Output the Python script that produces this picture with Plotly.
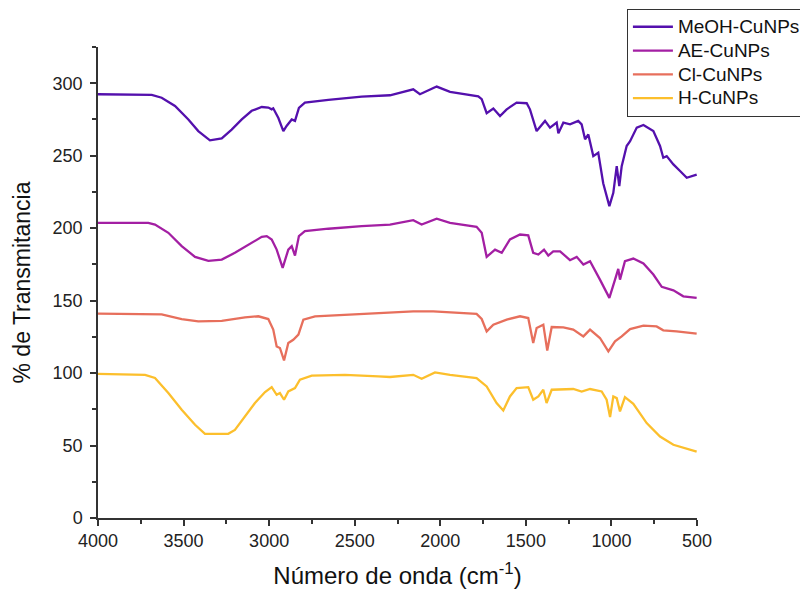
import plotly.graph_objects as go

# FTIR spectra of CuNPs prepared with different extracts (offset for clarity)

meoh_wn = [4000, 3686, 3628, 3550, 3472, 3414, 3346, 3277, 3219, 3160, 3102, 3043, 3005, 2985, 2976,
           2946, 2917, 2898, 2868, 2849, 2826, 2791, 2654, 2459, 2294, 2158, 2119, 2021, 1943, 1778,
           1758, 1729, 1690, 1651, 1612, 1554, 1495, 1476, 1437, 1388, 1359, 1320, 1310, 1281, 1242,
           1194, 1174, 1154, 1135, 1106, 1077, 1048, 1012, 989, 969, 954, 940, 911, 891, 852, 813,
           755, 716, 697, 677, 638, 599, 560, 502]
meoh_t = [292.4, 292.0, 290.0, 284.3, 275.0, 267.0, 260.6, 262.0, 268.0, 275.0, 281.0, 283.6, 283.2, 282.0, 282.7,
          276.0, 267.0, 270.5, 275.0, 274.0, 283.0, 286.6, 288.5, 290.8, 291.7, 295.8, 292.4, 297.7, 294.0, 291.0,
          289.0, 279.3, 282.5, 277.4, 282.0, 286.6, 286.2, 282.0, 267.0, 274.0, 269.4, 272.8, 265.4, 272.8, 271.6,
          274.0, 271.6, 261.3, 264.7, 249.7, 252.0, 231.0, 215.2, 224.4, 242.8, 229.0, 242.8, 256.7, 260.0, 269.4, 271.2,
          267.0, 256.7, 248.6, 249.7, 244.0, 239.4, 234.8, 237.0]

ae_wn = [4000, 3706, 3667, 3589, 3511, 3433, 3355, 3277, 3200, 3122, 3043, 3014, 2985, 2956, 2921,
         2888, 2868, 2849, 2826, 2791, 2654, 2459, 2294, 2158, 2109, 2021, 1943, 1788, 1758, 1729,
         1680, 1641, 1593, 1534, 1486, 1457, 1427, 1394, 1369, 1340, 1300, 1242, 1203, 1164, 1125,
         1067, 1012, 979, 960, 950, 921, 872, 813, 755, 706, 638, 580, 502]
ae_t = [203.7, 203.7, 202.5, 196.8, 187.6, 180.2, 177.4, 178.3, 183.0, 188.7, 194.0, 194.5, 192.2, 185.2, 172.6,
        185.2, 187.6, 181.1, 194.5, 197.9, 199.6, 201.4, 202.5, 205.5, 202.5, 206.5, 203.7, 200.9, 196.8, 180.2,
        185.2, 183.0, 192.2, 195.6, 195.0, 183.0, 181.8, 185.2, 181.1, 184.0, 184.0, 177.9, 180.2, 174.9, 177.2,
        164.5, 151.9, 164.5, 171.9, 164.5, 177.2, 179.0, 175.6, 168.0, 159.5, 157.1, 153.0, 151.9]

cl_wn = [4000, 3628, 3511, 3414, 3277, 3141, 3063, 3005, 2976, 2956, 2937, 2913, 2888, 2859, 2829,
         2800, 2732, 2557, 2294, 2158, 2041, 1788, 1758, 1729, 1690, 1612, 1534, 1486, 1457, 1437,
         1398, 1375, 1349, 1281, 1223, 1164, 1125, 1067, 1018, 979, 940, 891, 813, 736, 697, 619, 502]
cl_t = [141.0, 140.5, 137.3, 135.7, 136.0, 138.5, 139.2, 137.3, 130.0, 118.4, 117.3, 108.7, 120.7, 123.0, 126.5,
        136.9, 139.2, 140.3, 141.5, 142.6, 142.6, 140.8, 137.3, 128.8, 133.4, 136.9, 139.2, 138.0, 120.7, 131.1,
        133.4, 115.6, 131.8, 131.6, 130.0, 125.3, 130.0, 124.2, 115.0, 121.9, 125.3, 130.4, 132.7, 132.2, 129.5, 128.8, 127.2]

h_wn = [4000, 3725, 3667, 3589, 3511, 3433, 3375, 3239, 3200, 3141, 3083, 3024, 2985, 2956, 2937,
        2913, 2888, 2849, 2820, 2751, 2557, 2362, 2294, 2158, 2109, 2031, 1943, 1788, 1729, 1671,
        1632, 1593, 1554, 1486, 1457, 1427, 1398, 1379, 1349, 1223, 1174, 1125, 1057, 1028, 1008,
        989, 969, 950, 921, 872, 794, 716, 638, 502]
h_t = [99.5, 98.8, 96.6, 86.2, 74.7, 64.3, 58.1, 58.1, 60.8, 70.0, 79.3, 86.9, 90.3, 85.0, 86.2,
       81.6, 87.3, 89.6, 95.4, 98.2, 98.8, 97.7, 97.3, 98.8, 96.1, 100.5, 98.8, 96.6, 90.8, 79.3,
       74.2, 83.9, 89.6, 90.3, 81.6, 83.9, 88.5, 79.3, 88.5, 89.0, 87.3, 89.0, 87.3, 81.6, 69.6,
       83.9, 82.7, 73.5, 83.4, 78.8, 65.5, 56.2, 50.5, 45.8]

series = [
    ("MeOH-CuNPs", meoh_wn, meoh_t, "#5410ad"),
    ("AE-CuNPs", ae_wn, ae_t, "#a31fa3"),
    ("Cl-CuNPs", cl_wn, cl_t, "#e76f5c"),
    ("H-CuNPs", h_wn, h_t, "#fcbf2c"),
]

x_ticks = [4000, 3500, 3000, 2500, 2000, 1500, 1000, 500]
y_ticks = [0, 50, 100, 150, 200, 250, 300]

FONT = "Liberation Sans, Arial, sans-serif"

fig = go.Figure()
for name, wn, t, color in series:
    # legend rows are spaced by the legend font size; the label itself is set a bit larger
    label = f'<span style="font-size:19px">{name}</span>'
    fig.add_trace(go.Scatter(x=wn, y=t, mode="lines", name=label,
                             line=dict(color=color, width=2.3)))

axis_common = dict(
    showline=True, linecolor="#333333", linewidth=1.5,
    ticks="outside", ticklen=6, tickwidth=1.5, tickcolor="#333333",
    showgrid=False, zeroline=False,
    tickfont=dict(family=FONT, size=18, color="#222222"),
)

fig.update_xaxes(
    range=[4000, 500], tickvals=x_ticks,
    minor=dict(ticks="outside", ticklen=4, tickwidth=1.5, tickcolor="#333333", dtick=250, tick0=0),
    title=dict(text="Número de onda (cm<sup>-1</sup>)", font=dict(family=FONT, size=24, color="#111111"),
               standoff=17),
    **axis_common,
)
fig.update_yaxes(
    range=[0, 325], tickvals=y_ticks,
    minor=dict(ticks="outside", ticklen=4, tickwidth=1.5, tickcolor="#333333", dtick=25, tick0=0),
    title=dict(text="% de Transmitancia", font=dict(family=FONT, size=23, color="#111111"),
               standoff=16),
    ticklabelstandoff=4,
    **axis_common,
)

fig.update_layout(
    width=800, height=593,
    margin=dict(l=98, r=103, t=47, b=75, autoexpand=False),
    plot_bgcolor="white", paper_bgcolor="white",
    legend=dict(
        x=0.883, y=1.081, xanchor="left", yanchor="top",
        bordercolor="#333333", borderwidth=1, bgcolor="white",
        font=dict(family=FONT, size=16, color="#111111"),
        itemwidth=40, tracegroupgap=0,
    ),
    showlegend=True,
)

fig.write_html("out.html")
